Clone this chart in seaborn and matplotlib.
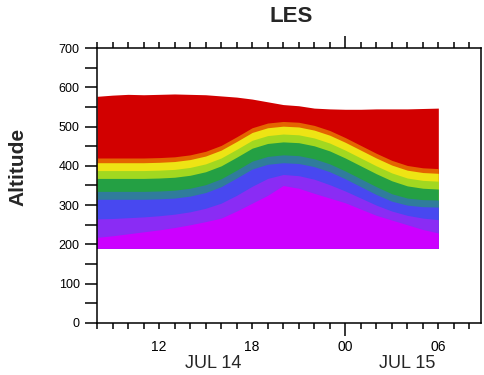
import numpy as np
import pandas as pd
import matplotlib

matplotlib.use("Agg")
import matplotlib.pyplot as plt
import matplotlib.dates as mdates
import seaborn as sns

# Hourly samples, 08 JUL 14 .. 06 JUL 15
times = pd.date_range("2023-07-14 08:00", "2023-07-15 06:00", freq="h")

# Altitude of each colour boundary (top of field down to base)
top = [577, 580, 582, 581, 582, 583, 582, 581, 578, 575, 570, 563, 556, 553, 547, 545, 544, 544, 545, 545, 545, 546, 547]
red_base = [420, 420, 420, 420, 421, 423, 428, 437, 452, 474, 497, 509, 513, 511, 503, 490, 472, 452, 432, 414, 401, 395, 393]
orange_base = [408, 408, 408, 408, 409, 411, 416, 425, 440, 462, 485, 497, 501, 499, 491, 478, 460, 440, 420, 402, 389, 383, 381]
yellow_base = [388, 388, 388, 388, 389, 391, 396, 405, 420, 442, 465, 477, 481, 479, 471, 458, 440, 420, 400, 382, 369, 363, 361]
lime_base = [368, 368, 368, 368, 369, 371, 376, 385, 400, 422, 445, 457, 461, 459, 451, 438, 420, 400, 380, 362, 349, 343, 341]
green_base = [335, 335, 335, 335, 336, 338, 343, 352, 367, 389, 412, 424, 428, 426, 418, 405, 387, 367, 347, 329, 318, 314, 313]
teal_base = [315, 315, 315, 315, 316, 318, 323, 332, 347, 369, 392, 404, 408, 406, 398, 385, 367, 347, 327, 310, 300, 296, 295]
blue_base = [265, 266, 268, 270, 273, 277, 283, 292, 305, 325, 348, 368, 378, 375, 366, 352, 336, 318, 300, 285, 274, 267, 263]
violet_base = [218, 222, 227, 232, 237, 243, 250, 258, 267, 285, 305, 325, 350, 343, 330, 318, 306, 290, 274, 262, 250, 238, 229]
bottom = 190

band_tops = [top, red_base, orange_base, yellow_base, lime_base, green_base, teal_base, blue_base, violet_base]
band_colors = ["#D20000", "#E46400", "#EEE414", "#A2D820", "#24A044", "#307C9C", "#4848F0", "#8A2CF4", "#CC00FF"]

sns.set_theme(style="ticks")
plt.rcParams["font.family"] = ["Liberation Sans", "DejaVu Sans"]

fig = plt.figure(figsize=(4.84, 3.75), dpi=100)
ax = fig.add_axes([0.2004, 0.1387, 0.7934, 0.7333])

# Stack bands: each one filled from the base upward, later ones cover earlier
for upper, color in zip(band_tops, band_colors):
    ax.fill_between(times, bottom, upper, color=color, linewidth=0)

ax.set_xlim(pd.Timestamp("2023-07-14 08:00"), pd.Timestamp("2023-07-15 08:45"))
ax.set_ylim(0, 700)

# y axis
ax.set_yticks(np.arange(0, 701, 100))
ax.set_yticks(np.arange(50, 700, 100), minor=True)
ax.tick_params(axis="y", which="both", length=8.5, width=1.1, direction="out",
               labelsize=9, pad=4, colors="black")
ax.set_ylabel("Altitude", fontsize=15, fontweight="bold")
ax.yaxis.set_label_coords(-0.18, 0.567)

# x axis: hourly minor ticks, day boundaries as major ticks
ax.xaxis.set_major_locator(mdates.DayLocator())
ax.xaxis.set_minor_locator(mdates.HourLocator())
ax.xaxis.set_major_formatter(mdates.DateFormatter("%H"))


def hour_label(x, pos):
    d = mdates.num2date(x)
    if d.minute == 0 and d.hour % 6 == 0:
        return d.strftime("%H")
    return ""


ax.xaxis.set_minor_formatter(plt.FuncFormatter(hour_label))
ax.tick_params(axis="x", which="minor", length=4, width=1.1, direction="out",
               labelsize=10, pad=8, top=True, colors="black")
ax.tick_params(axis="x", which="major", length=9, width=1.1, direction="out",
               labelsize=10, pad=3, top=True, colors="black")

for side in ["left", "right", "top", "bottom"]:
    ax.spines[side].set_color("black")
    ax.spines[side].set_linewidth(1.1)

fig.text(213 / 484, 1 - 364 / 375, "JUL 14", ha="center", va="center", fontsize=13)
fig.text(407 / 484, 1 - 364 / 375, "JUL 15", ha="center", va="center", fontsize=13)
fig.text(291 / 484, 1 - 17 / 375, "LES", ha="center", va="center", fontsize=16, fontweight="bold")

fig.savefig("out.png", dpi=100)
